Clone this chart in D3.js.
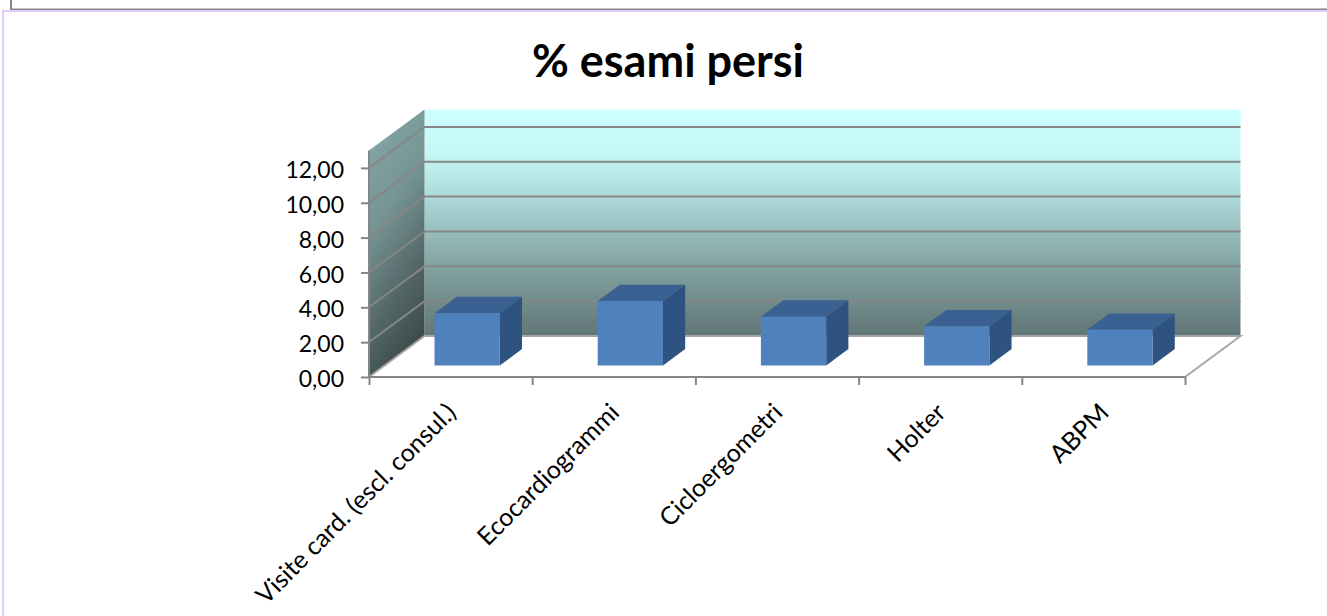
<!DOCTYPE html>
<html>
<head>
<meta charset="utf-8">
<style>
    html, body { margin: 0; padding: 0; background: #fff; overflow: hidden; }
    text { font-family: Lato, "Open Sans", sans-serif; fill: #000; }
    .axis path, .axis line { stroke: #868686; stroke-width: 2px; }
</style>
<script src="https://d3js.org/d3.v7.min.js"></script>
</head>
<body>
<svg id="chart" width="1327" height="616"></svg>
<script>
const categories = ["Visite card. (escl. consul.)", "Ecocardiogrammi", "Cicloergometri", "Holter", "ABPM"];
const lostPercent = [3.0, 3.7, 2.8, 2.25, 2.05];
const yTickValues = [0, 2, 4, 6, 8, 10, 12];
const chartTitle = "% esami persi";

const svg = d3.select("#chart");
const defs = svg.append("defs");

const yMax = 13;
const x = d3.scaleBand().domain(categories).range([369, 1185]).paddingInner(0).paddingOuter(0);
const xEdges = d3.scaleLinear().domain([0, categories.length]).range([369, 1185]);
const y = d3.scaleLinear().domain([0, yMax]).range([377, 150.5]);

// depth runs from the front of the floor (0) to the back wall (1)
const depthX = d3.scaleLinear().domain([0, 1]).range([0, 55.5]);
const depthY = d3.scaleLinear().domain([0, 1]).range([0, -41]);

const barFront = 0.28, barBack = 0.68, barFill = 0.4;

let pt = (px, value, depth) => [px + depthX(depth), y(value) + depthY(depth)];
let poly = points => points.map(p => p.join(",")).join(" ");

// gradients for the walls
let backGrad = defs.append("linearGradient").attr("id", "backWall")
    .attr("x1", 0).attr("y1", 0).attr("x2", 0).attr("y2", 1);
[[0, "#ccffff"], [0.2, "#c4f6f6"], [0.4, "#abd7d7"], [0.6, "#8fb1b1"], [0.8, "#769292"], [1, "#627676"]]
    .forEach(s => backGrad.append("stop").attr("offset", s[0]).attr("stop-color", s[1]));

let sideGrad = defs.append("linearGradient").attr("id", "sideWall")
    .attr("x1", 0.3).attr("y1", 0).attr("x2", 0.6).attr("y2", 1);
[[0, "#84a6a6"], [0.35, "#769494"], [0.7, "#536666"], [1, "#394646"]]
    .forEach(s => sideGrad.append("stop").attr("offset", s[0]).attr("stop-color", s[1]));

// page frame left over from the slide
const frame = svg.append("g");
frame.append("path").attr("d", "M11,0V9.5H1327").attr("fill", "none").attr("stroke", "#868686").attr("stroke-width", 2);
frame.append("path").attr("d", "M3,616V11H1327").attr("fill", "none").attr("stroke", "#e0ccff").attr("stroke-width", 2);

// title
svg.append("text")
    .attr("x", 668).attr("y", 77)
    .attr("text-anchor", "middle")
    .style("font-size", "45px")
    .style("font-weight", 700)
    .text(chartTitle);

// walls
const xLeft = xEdges(0), xRight = xEdges(categories.length);
svg.append("polygon")
    .attr("points", poly([pt(xLeft, 0, 1), pt(xLeft, yMax, 1), pt(xRight, yMax, 1), pt(xRight, 0, 1)]))
    .attr("fill", "url(#backWall)");
svg.append("polygon")
    .attr("points", poly([pt(xLeft, 0, 0), pt(xLeft, yMax, 0), pt(xLeft, yMax, 1), pt(xLeft, 0, 1)]))
    .attr("fill", "url(#sideWall)");

// gridlines, running along the side wall and then the back wall
svg.append("g").selectAll("polyline")
    .data(yTickValues.slice(1))
    .enter()
    .append("polyline")
    .attr("points", d => poly([pt(xLeft, d, 0), pt(xLeft, d, 1), pt(xRight, d, 1)]))
    .attr("fill", "none")
    .attr("stroke", "#868686")
    .attr("stroke-width", 2);

// floor edges
svg.append("polyline")
    .attr("points", poly([pt(xLeft, 0, 0), pt(xLeft, 0, 1), pt(xRight, 0, 1), pt(xRight, 0, 0)]))
    .attr("fill", "none")
    .attr("stroke", "#a6a6a6")
    .attr("stroke-width", 2);

// bars
let barGroups = svg.append("g").attr("transform", "translate(1,0)").selectAll("g")
    .data(categories.map((c, i) => ({ category: c, value: lostPercent[i] })))
    .enter()
    .append("g");

let barLeft = d => x(d.category) + x.bandwidth() * (1 - barFill) / 2;
let barRight = d => barLeft(d) + x.bandwidth() * barFill;

barGroups.append("polygon")
    .attr("points", d => poly([pt(barLeft(d), d.value, barFront), pt(barLeft(d), d.value, barBack),
        pt(barRight(d), d.value, barBack), pt(barRight(d), d.value, barFront)]))
    .attr("fill", "#3a6192");
barGroups.append("polygon")
    .attr("points", d => poly([pt(barRight(d), 0, barFront), pt(barRight(d), d.value, barFront),
        pt(barRight(d), d.value, barBack), pt(barRight(d), 0, barBack)]))
    .attr("fill", "#2f5381");
barGroups.append("polygon")
    .attr("points", d => poly([pt(barLeft(d), 0, barFront), pt(barLeft(d), d.value, barFront),
        pt(barRight(d), d.value, barFront), pt(barRight(d), 0, barFront)]))
    .attr("fill", "#4f81bd");

// axes
let yAxis = d3.axisLeft(y)
    .tickValues(yTickValues)
    .tickSize(8)
    .tickPadding(17)
    .tickFormat(d => d3.format(".2f")(d).replace(".", ","));

let yAxisG = svg.append("g").attr("class", "axis")
    .attr("transform", "translate(" + xLeft + ",0)")
    .call(yAxis);
yAxisG.select(".domain").remove();
yAxisG.selectAll("text").style("font-size", "23px").attr("dy", "0.42em");
yAxisG.append("line")
    .attr("x1", 0).attr("x2", 0)
    .attr("y1", y(0)).attr("y2", y(yMax));

let edgeAxis = d3.axisBottom(xEdges)
    .ticks(categories.length)
    .tickSize(8)
    .tickFormat("");

let edgeAxisG = svg.append("g").attr("class", "axis")
    .attr("transform", "translate(0," + y(0) + ")")
    .call(edgeAxis);
edgeAxisG.select(".domain").attr("d", "M" + xLeft + ",0H" + xRight);

let labelAxis = d3.axisBottom(x).tickSize(0).tickPadding(0);
let labelAxisG = svg.append("g")
    .attr("transform", "translate(0," + y(0) + ")")
    .call(labelAxis);
labelAxisG.select(".domain").remove();
labelAxisG.selectAll("text")
    .style("font-size", "25px")
    .attr("text-anchor", "end")
    .attr("dy", null)
    .attr("y", 0)
    .attr("transform", "translate(7,37) rotate(-45)");
</script>
</body>
</html>
